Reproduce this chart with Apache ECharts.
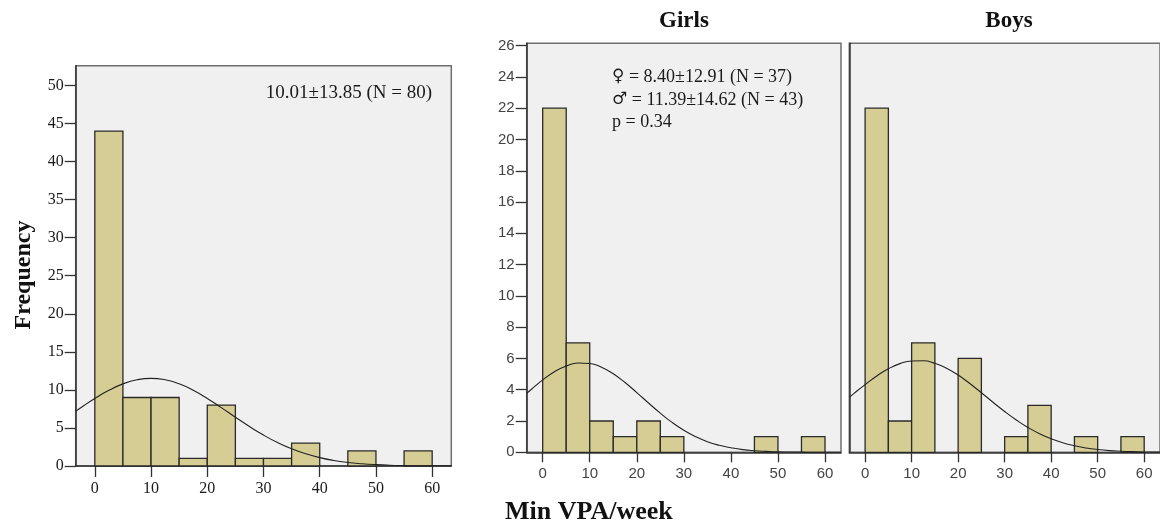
<!DOCTYPE html>
<html>
<head>
<meta charset="utf-8">
<script src="https://cdn.jsdelivr.net/npm/echarts@6/dist/echarts.min.js"></script>
<style>
html,body{margin:0;padding:0;background:#fff;}
#chart{width:1160px;height:523px;}
</style>
</head>
<body>
<div id="chart"></div>
<script>
// ---- data ----
const binWidth = 5;
const binStarts = [0, 5, 10, 15, 20, 25, 30, 35, 40, 45, 50, 55];
const totalCounts = [44, 9, 9, 1, 8, 1, 1, 3, 0, 2, 0, 2];
const girlsCounts = [22, 7, 2, 1, 2, 1, 0, 0, 0, 1, 0, 1];
const boysCounts  = [22, 2, 7, 0, 6, 0, 1, 3, 0, 1, 0, 1];

const curveX = [-3.4, -2.5, 0, 2.5, 5, 7.5, 10, 12.5, 15, 17.5, 20, 22.5, 25, 27.5, 30, 32.5, 35, 37.5, 40, 42.5, 45, 47.5, 50, 52.5, 55, 57.5, 60, 62.5, 63.4];
const totalCurve = [7.21, 7.66, 8.87, 9.94, 10.79, 11.33, 11.52, 11.33, 10.80, 9.95, 8.88, 7.67, 6.41, 5.19, 4.06, 3.08, 2.26, 1.61, 1.10, 0.73, 0.47, 0.30, 0.18, 0.10, 0.06, 0.03, 0.02, 0.01, 0.01];
const girlsCurve = [3.77, 4.00, 4.63, 5.15, 5.52, 5.71, 5.68, 5.44, 5.02, 4.46, 3.82, 3.15, 2.50, 1.91, 1.41, 1.00, 0.68, 0.45, 0.29, 0.17, 0.10, 0.06, 0.03, 0.02, 0.01, 0.00, 0.00, 0.00, 0.00];
const boysCurve  = [3.52, 3.74, 4.33, 4.88, 5.34, 5.67, 5.84, 5.85, 5.69, 5.38, 4.94, 4.40, 3.81, 3.20, 2.61, 2.07, 1.59, 1.19, 0.87, 0.61, 0.42, 0.28, 0.18, 0.11, 0.07, 0.04, 0.02, 0.01, 0.01];

const xTicks = [0, 10, 20, 30, 40, 50, 60];
const totalYTicks = [0, 5, 10, 15, 20, 25, 30, 35, 40, 45, 50];
const sexYTicks = [0, 2, 4, 6, 8, 10, 12, 14, 16, 18, 20, 22, 24, 26];

const yAxisTitle = 'Frequency';
const xAxisTitle = 'Min VPA/week';
const panelTitles = ['Girls', 'Boys'];
const totalNote = '10.01±13.85 (N = 80)';
const sexSymbols = ['♀', '♂'];
const sexNotes = [' = 8.40±12.91 (N = 37)', ' = 11.39±14.62 (N = 43)', 'p = 0.34'];

// ---- styles ----
const SERIF = '"Liberation Serif", "Times New Roman", serif';
const SANS = '"Liberation Sans", Arial, sans-serif';
const barFill = '#d5cd93';
const barStroke = '#2a2a2a';

function histData(counts) {
  return binStarts.map((s, i) => [s, counts[i]]);
}
function curveData(ys) {
  return curveX.map((x, i) => [x, ys[i]]);
}
function histSeries(idx, counts) {
  return {
    type: 'custom',
    xAxisIndex: idx, yAxisIndex: idx,
    data: histData(counts),
    encode: { x: 0, y: 1 },
    z: 2,
    renderItem: function (params, api) {
      const x0 = api.value(0);
      const c = api.value(1);
      if (!c) return null;
      const p0 = api.coord([x0, c]);
      const p1 = api.coord([x0 + binWidth, 0]);
      return {
        type: 'rect',
        shape: { x: p0[0], y: p0[1], width: p1[0] - p0[0], height: p1[1] - p0[1] },
        style: { fill: barFill, stroke: barStroke, lineWidth: 1.3 }
      };
    }
  };
}
function curveSeries(idx, ys) {
  return {
    type: 'line',
    xAxisIndex: idx, yAxisIndex: idx,
    data: curveData(ys),
    smooth: true,
    showSymbol: false,
    symbol: 'none',
    clip: true,
    z: 5,
    lineStyle: { color: '#222', width: 1.1 }
  };
}
function xAxisDef(idx, labelFont, labelSize, margin, tickLen) {
  return {
    type: 'value', gridIndex: idx, min: -3.4, max: 63.4,
    splitLine: { show: false },
    axisLine: { show: true, onZero: false, lineStyle: { color: '#333', width: 1.5 } },
    axisTick: { show: true, length: tickLen, customValues: xTicks, lineStyle: { color: '#333', width: 1.3 } },
    axisLabel: { show: true, customValues: xTicks, fontFamily: labelFont, fontSize: labelSize, color: labelFont === SERIF ? '#1a1a1a' : '#444', margin: margin }
  };
}
function yAxisDef(idx, max, ticks, labelFont, labelSize, showLabels) {
  return {
    type: 'value', gridIndex: idx, min: 0, max: max,
    splitLine: { show: false },
    axisLine: { show: true, onZero: false, lineStyle: { color: '#333', width: 1.5 } },
    axisTick: { show: showLabels, length: 11, customValues: ticks, lineStyle: { color: '#333', width: 1.3 } },
    axisLabel: { show: showLabels, customValues: ticks, fontFamily: labelFont, fontSize: labelSize, color: labelFont === SERIF ? '#1a1a1a' : '#444', margin: 12 }
  };
}

const gridStyle = { show: true, backgroundColor: '#f0f0f0', borderColor: '#6e6e6e', borderWidth: 1.5 };
const symRich = { s: { fontFamily: '"DejaVu Serif", "DejaVu Sans", serif', fontSize: 17, fill: '#1a1a1a' } };

const chart = echarts.init(document.getElementById('chart'), null, { renderer: 'canvas' });
chart.setOption({
  animation: false,
  backgroundColor: '#ffffff',
  grid: [
    Object.assign({ left: 75.7, top: 65.7, width: 375.6, height: 400.3 }, gridStyle),
    Object.assign({ left: 526.7, top: 43.3, width: 314.3, height: 409 }, gridStyle),
    Object.assign({ left: 849.3, top: 43.3, width: 313.7, height: 409 }, gridStyle)
  ],
  xAxis: [
    xAxisDef(0, SERIF, 16, 15, 11),
    xAxisDef(1, SANS, 15, 14, 10),
    xAxisDef(2, SANS, 15, 14, 10)
  ],
  yAxis: [
    yAxisDef(0, 52.6, totalYTicks, SERIF, 16, true),
    yAxisDef(1, 26.15, sexYTicks, SANS, 15, true),
    yAxisDef(2, 26.15, sexYTicks, SANS, 15, false)
  ],
  series: [
    histSeries(0, totalCounts), curveSeries(0, totalCurve),
    histSeries(1, girlsCounts), curveSeries(1, girlsCurve),
    histSeries(2, boysCounts), curveSeries(2, boysCurve)
  ],
  graphic: [
    { type: 'text', x: 24, y: 275, rotation: Math.PI / 2,
      style: { text: yAxisTitle, font: 'bold 24px ' + SERIF, fill: '#111', textAlign: 'center', textVerticalAlign: 'middle' } },
    { type: 'text', x: 505, y: 512,
      style: { text: xAxisTitle, font: 'bold 26px ' + SERIF, fill: '#111', textAlign: 'left', textVerticalAlign: 'middle' } },
    { type: 'text', x: 684, y: 21,
      style: { text: panelTitles[0], font: 'bold 23px ' + SERIF, fill: '#111', textAlign: 'center', textVerticalAlign: 'middle' } },
    { type: 'text', x: 1009, y: 21,
      style: { text: panelTitles[1], font: 'bold 23px ' + SERIF, fill: '#111', textAlign: 'center', textVerticalAlign: 'middle' } },
    { type: 'text', x: 432, y: 93, z: 10,
      style: { text: totalNote, fontFamily: SERIF, fontSize: 19, fill: '#1a1a1a', textAlign: 'right', textVerticalAlign: 'middle' } },
    { type: 'text', x: 612, y: 77, z: 10,
      style: { text: '{s|' + sexSymbols[0] + '}' + sexNotes[0], fontFamily: SERIF, fontSize: 18, fill: '#1a1a1a', textAlign: 'left', textVerticalAlign: 'middle', rich: symRich } },
    { type: 'text', x: 612, y: 100, z: 10,
      style: { text: '{s|' + sexSymbols[1] + '}' + sexNotes[1], fontFamily: SERIF, fontSize: 18, fill: '#1a1a1a', textAlign: 'left', textVerticalAlign: 'middle', rich: symRich } },
    { type: 'text', x: 612, y: 122, z: 10,
      style: { text: sexNotes[2], fontFamily: SERIF, fontSize: 18, fill: '#1a1a1a', textAlign: 'left', textVerticalAlign: 'middle' } }
  ]
});
</script>
</body>
</html>
